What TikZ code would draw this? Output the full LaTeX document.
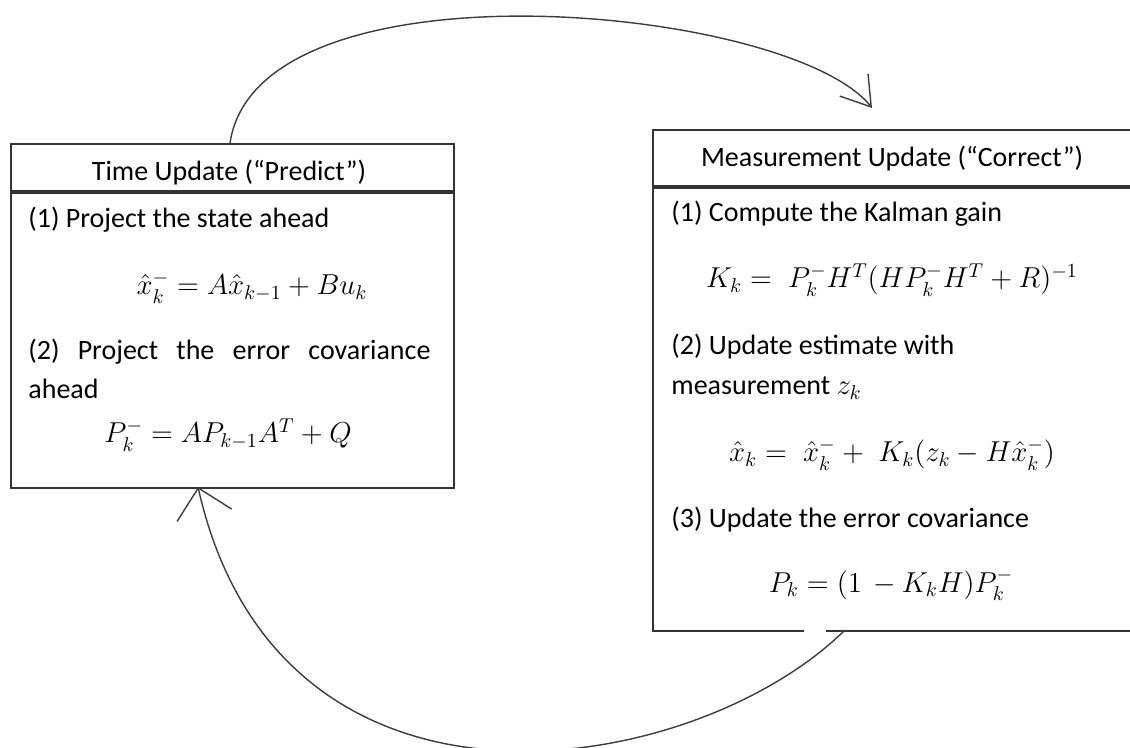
\documentclass[tikz,border=0pt]{standalone}
\usepackage{amsmath}
\usepackage{fontspec}
\setmainfont{Carlito}
\usepackage{tikz}
\usetikzlibrary{arrows.meta,calc}
\definecolor{frame}{HTML}{333333}
\definecolor{loopline}{HTML}{3C3C3C}

\begin{document}
\begin{tikzpicture}[
    x=0.5pt,y=-0.5pt,
    panel/.style={draw=frame,line width=1pt,anchor=north west,inner sep=0pt},
    split/.style={draw=frame,line width=1.6pt},
    head/.style={font=\fontsize{14}{16}\selectfont,anchor=base,inner sep=0pt},
    item/.style={font=\fontsize{14}{16}\selectfont,anchor=base west,inner sep=0pt},
    eqn/.style={font=\fontsize{13.6}{16}\selectfont,anchor=base,inner sep=0pt},
    back/.style={draw=loopline,line width=0.7pt,-{Straight Barb[length=14pt,width=#1]}}
  ]
  \useasboundingbox (0,0) rectangle (1130,748);

  % panels
  \node[panel,minimum width=221.5pt,minimum height=172pt] (tu) at (10,143) {};
  \node[panel,minimum width=245pt,minimum height=250.5pt] (mu) at (652,129) {};
  \draw[split] ([yshift=-24.5pt]tu.north west) -- ([yshift=-24.5pt]tu.north east);
  \draw[split] ([yshift=-29pt]mu.north west) -- ([yshift=-29pt]mu.north east);
  \draw[white,line width=2pt] (804,630) -- (826,630);

  % time update
  \node[head] (tuHead) at (229,181) {Time Update (``Predict'')};
  \node[item] (tuA) at (28,228) {(1) Project the state ahead};
  \node[eqn] (tuEqA) at (252,295) {$\hat{x}_k^- = A\hat{x}_{k-1} + Bu_k$};
  \node[item] (tuB) at (28,360) {\makebox[201pt][s]{(2) Project the error covariance}};
  \node[item] (tuC) at (28,399) {ahead};
  \node[eqn] (tuEqB) at (228,443) {$P_k^- = AP_{k-1}A^T + Q$};

  % measurement update
  \node[head] (muHead) at (892,167) {Measurement Update (``Correct'')};
  \node[item] (muA) at (671,222) {(1) Compute the Kalman gain};
  \node[eqn] (muEqA) at (892,288) {$K_k =\; P_k^-H^T(HP_k^-H^T+R)^{-1}$};
  \node[item] (muB) at (671,355) {(2) Update estimate with};
  \node[item] (muC) at (671,395) {measurement $z_k$};
  \node[eqn] (muEqB) at (892,462) {$\hat{x}_k =\; \hat{x}_k^- +\; K_k(z_k - H\hat{x}_k^-)$};
  \node[item] (muD) at (671,527) {(3) Update the error covariance};
  \node[eqn] (muEqC) at (891,592) {$P_k = (1\,-K_kH)P_k^-$};

  % cycle
  \coordinate (tuOut) at (230,143);
  \coordinate (muIn) at (872,108);
  \coordinate (muOut) at (845,630);
  \coordinate (tuIn) at (198,487);
  \draw[back=18pt] (tuOut) .. controls (258,-45) and (791,5) .. (muIn);
  \draw[back=28pt] (muOut) .. controls (695,778) and (280,850) .. (tuIn);

\end{tikzpicture}
\end{document}
